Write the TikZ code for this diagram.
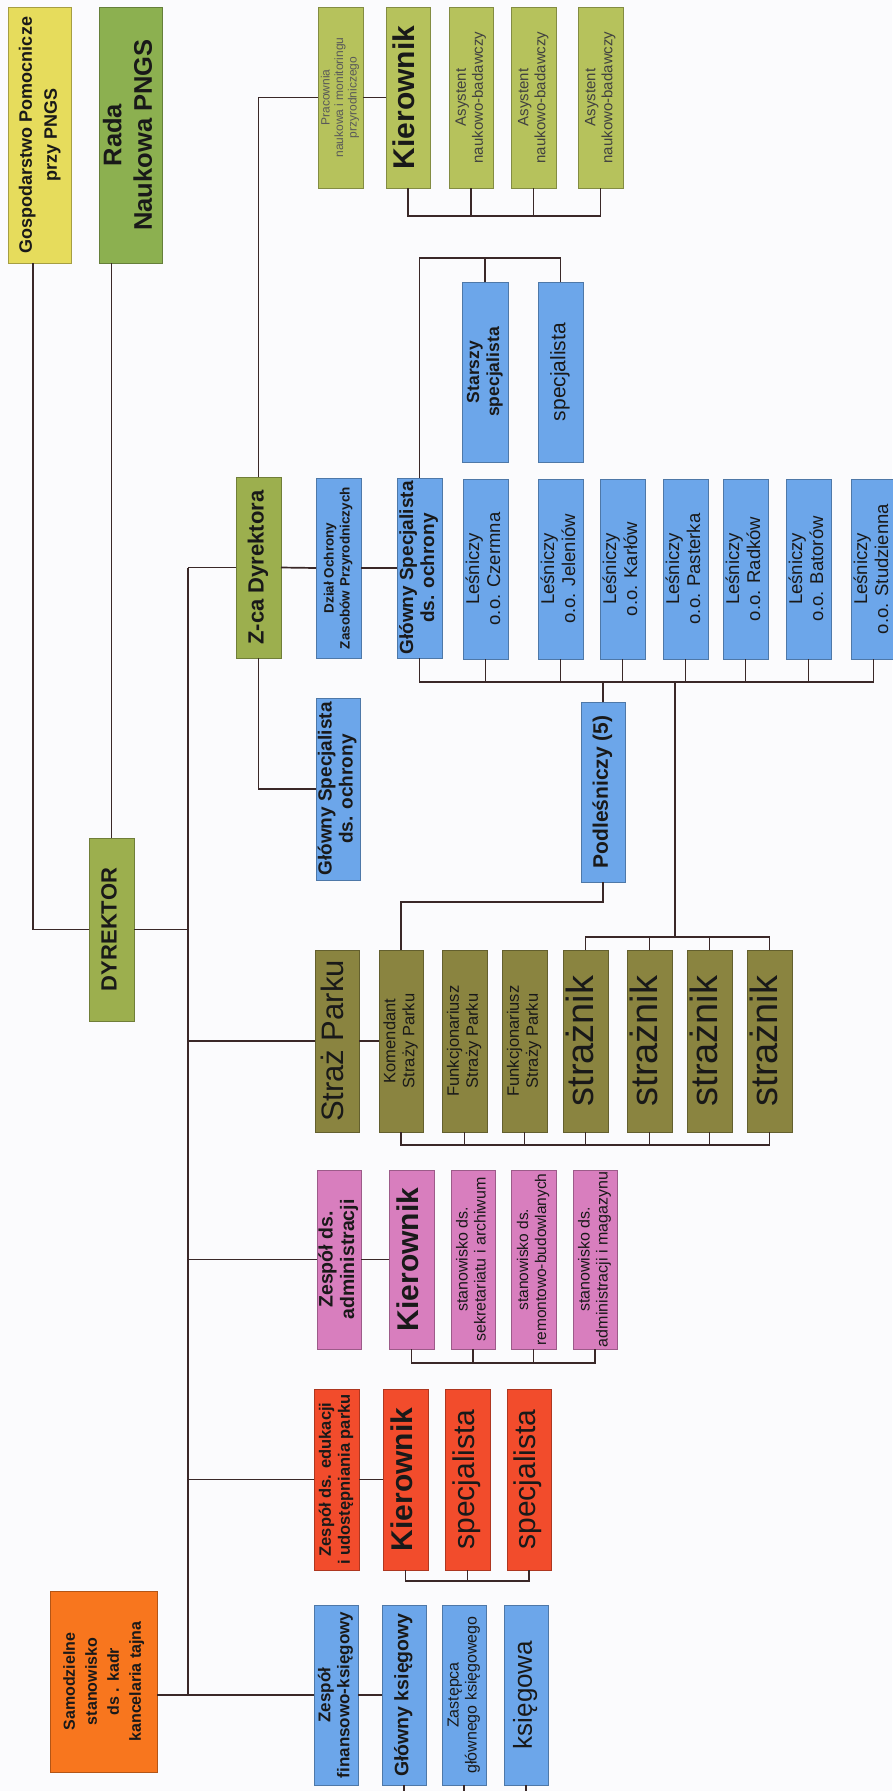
\documentclass[tikz,border=0pt]{standalone}
\usepackage{fontspec}
\setmainfont{Liberation Sans}
\usepackage{graphicx}
\definecolor{cYel}{HTML}{E6DC5C}
\definecolor{cRada}{HTML}{8CB050}
\definecolor{cDyr}{HTML}{9CAF4E}
\definecolor{cPrac}{HTML}{B6C25C}
\definecolor{cBlue}{HTML}{6CA6EA}
\definecolor{cOlive}{HTML}{8A8440}
\definecolor{cPink}{HTML}{D87EBE}
\definecolor{cRed}{HTML}{F24C2C}
\definecolor{cOrange}{HTML}{F8761E}
\definecolor{cLine}{HTML}{3A2828}
\definecolor{cBg}{HTML}{FBFBFD}
\newcommand\tb[3]{\rotatebox{90}{\fontsize{#1}{#2}\selectfont\bfseries\begin{tabular}{@{}c@{}}#3\end{tabular}}}
\newcommand\tr[3]{\rotatebox{90}{\fontsize{#1}{#2}\selectfont\begin{tabular}{@{}c@{}}#3\end{tabular}}}
\tikzset{
  bx/.style={draw=#1!72!black, line width=0.5pt, fill=#1, inner sep=0pt, outer sep=0pt, text=black!90},
  conn/.style={draw=cLine, line width=1.7pt},
}
\begin{document}
\begin{tikzpicture}[x=1pt,y=-1pt]
\fill[cBg] (0,0) rectangle (892,1791);
\useasboundingbox (0,0) rectangle (892,1791);

% top row
\node[bx=cYel, minimum width=63pt, minimum height=256pt] (gosp) at (39.5,135) {\tb{18}{25}{Gospodarstwo Pomocnicze\\przy PNGS}};
\node[bx=cRada, minimum width=63pt, minimum height=256pt] (rada) at (130.5,135) {\tb{25.5}{30.5}{Rada\\Naukowa PNGS}};
\node[bx=cDyr, minimum width=45pt, minimum height=183pt] (dyr) at (111.5,929.5) {\tb{22}{25}{DYREKTOR}};
\node[bx=cDyr, minimum width=45pt, minimum height=181pt] (zca) at (258.5,567.5) {\tb{22}{25}{Z-ca Dyrektora}};

% research
\node[bx=cPrac, minimum width=45pt, minimum height=181pt, text=black!65] (prac) at (340.5,97.5) {\tr{12}{13.5}{Pracownia\\naukowa i monitoringu\\przyrodniczego}};
\node[bx=cPrac, minimum width=44pt, minimum height=181pt] (kierg) at (408,97.5) {\tb{30}{33}{Kierownik}};
\node[bx=cPrac, minimum width=44pt, minimum height=181pt, text=black!75] (asys1) at (471,97.5) {\tr{15}{17}{Asystent\\naukowo-badawczy}};
\node[bx=cPrac, minimum width=45pt, minimum height=181pt, text=black!75] (asys2) at (533.5,97.5) {\tr{15}{17}{Asystent\\naukowo-badawczy}};
\node[bx=cPrac, minimum width=45pt, minimum height=181pt, text=black!75] (asys3) at (600.5,97.5) {\tr{15}{17}{Asystent\\naukowo-badawczy}};

% protection department
\node[bx=cBlue, minimum width=45pt, minimum height=180pt] (dzial) at (338.5,568) {\tb{13.5}{16}{Dział Ochrony\\Zasobów Przyrodniczych}};
\node[bx=cBlue, minimum width=45pt, minimum height=180pt] (gs1) at (419.5,568) {\tb{19}{21}{Główny Specjalista\\ds. ochrony}};
\node[bx=cBlue, minimum width=46pt, minimum height=180pt] (starszy) at (485,372) {\tb{17.5}{20}{Starszy\\specjalista}};
\node[bx=cBlue, minimum width=45pt, minimum height=180pt] (spec) at (560.5,372) {\tr{21}{24}{specjalista}};
\node[bx=cBlue, minimum width=45pt, minimum height=180pt] (czermna) at (485.5,569) {\tr{18.5}{21}{Leśniczy\\o.o. Czermna}};
\node[bx=cBlue, minimum width=45pt, minimum height=180pt] (jelen) at (560.5,569) {\tr{18.5}{21}{Leśniczy\\o.o. Jeleniów}};
\node[bx=cBlue, minimum width=45pt, minimum height=180pt] (karlow) at (622.5,569) {\tr{18.5}{21}{Leśniczy\\o.o. Karłów}};
\node[bx=cBlue, minimum width=45pt, minimum height=180pt] (pasterka) at (685.5,569) {\tr{18.5}{21}{Leśniczy\\o.o. Pasterka}};
\node[bx=cBlue, minimum width=45pt, minimum height=180pt] (radkow) at (745.5,569) {\tr{18.5}{21}{Leśniczy\\o.o. Radków}};
\node[bx=cBlue, minimum width=45pt, minimum height=180pt] (batorow) at (808.5,569) {\tr{18.5}{21}{Leśniczy\\o.o. Batorów}};
\node[bx=cBlue, minimum width=45pt, minimum height=180pt] (studz) at (873.5,569) {\tr{18.5}{21}{Leśniczy\\o.o. Studzienna}};
\node[bx=cBlue, minimum width=44pt, minimum height=180pt] (podl) at (603,792) {\tb{21}{24}{Podleśniczy (5)}};
\node[bx=cBlue, minimum width=44pt, minimum height=182pt] (gs2) at (338,789) {\tb{19}{21}{Główny Specjalista\\ds. ochrony}};

% park guard
\node[bx=cOlive, minimum width=44pt, minimum height=182pt] (straz) at (337,1041) {\tr{31}{34}{Straż Parku}};
\node[bx=cOlive, minimum width=44pt, minimum height=182pt] (komend) at (401,1041) {\tr{16.5}{19}{Komendant\\Straży Parku}};
\node[bx=cOlive, minimum width=45pt, minimum height=182pt] (funk1) at (464.5,1041) {\tr{16.5}{19}{Funkcjonariusz\\Straży Parku}};
\node[bx=cOlive, minimum width=45pt, minimum height=182pt] (funk2) at (524.5,1041) {\tr{16.5}{19}{Funkcjonariusz\\Straży Parku}};
\node[bx=cOlive, minimum width=45pt, minimum height=182pt] (s1) at (585.5,1041) {\tr{38}{40}{strażnik}};
\node[bx=cOlive, minimum width=45pt, minimum height=182pt] (s2) at (649.5,1041) {\tr{38}{40}{strażnik}};
\node[bx=cOlive, minimum width=45pt, minimum height=182pt] (s3) at (709.5,1041) {\tr{38}{40}{strażnik}};
\node[bx=cOlive, minimum width=45pt, minimum height=182pt] (s4) at (769.5,1041) {\tr{38}{40}{strażnik}};

% administration
\node[bx=cPink, minimum width=44pt, minimum height=179pt] (zadm) at (339,1259.5) {\tb{19.5}{21.5}{Zespół ds.\\administracji}};
\node[bx=cPink, minimum width=45pt, minimum height=179pt] (kierp) at (411.5,1259.5) {\tb{30}{33}{Kierownik}};
\node[bx=cPink, minimum width=44pt, minimum height=179pt] (st1) at (473,1259.5) {\tr{16}{18}{stanowisko ds.\\sekretariatu i archiwum}};
\node[bx=cPink, minimum width=45pt, minimum height=179pt] (st2) at (533.5,1259.5) {\tr{15.5}{18}{stanowisko ds.\\remontowo-budowlanych}};
\node[bx=cPink, minimum width=44pt, minimum height=179pt] (st3) at (595,1259.5) {\tr{16}{18}{stanowisko ds.\\administracji i magazynu}};

% education
\node[bx=cRed, minimum width=45pt, minimum height=181pt] (zedu) at (336.5,1479.5) {\tb{16.5}{19}{Zespół ds. edukacji\\i udostępniania parku}};
\node[bx=cRed, minimum width=45pt, minimum height=181pt] (kierr) at (405.5,1479.5) {\tb{30}{33}{Kierownik}};
\node[bx=cRed, minimum width=45pt, minimum height=181pt] (sp1) at (467.5,1479.5) {\tr{30}{33}{specjalista}};
\node[bx=cRed, minimum width=44pt, minimum height=181pt] (sp2) at (529,1479.5) {\tr{30}{33}{specjalista}};

% finance
\node[bx=cBlue, minimum width=44pt, minimum height=180pt] (zfin) at (336,1695) {\tb{17}{19}{Zespół\\finansowo-księgowy}};
\node[bx=cBlue, minimum width=44pt, minimum height=180pt] (glk) at (404,1695) {\tb{19.5}{22}{Główny księgowy}};
\node[bx=cBlue, minimum width=44pt, minimum height=180pt] (zast) at (464,1695) {\tr{16}{18}{Zastępca\\głównego księgowego}};
\node[bx=cBlue, minimum width=44pt, minimum height=180pt] (ksieg) at (526,1695) {\tr{26}{29}{księgowa}};
\node[bx=cOrange, minimum width=107pt, minimum height=181pt] (samo) at (103.5,1681.5) {\tb{16}{22}{Samodzielne\\stanowisko\\ds . kadr\\kancelaria tajna}};

% helper coordinates
\coordinate (spx) at (188,0);
\coordinate (gx) at (33,0);
\coordinate (bg) at (0,216);
\coordinate (bt) at (0,258);
\coordinate (bb) at (0,682);
\coordinate (sx) at (675,682);
\coordinate (bs) at (0,937);
\coordinate (bp) at (0,902);
\coordinate (bsb) at (0,1145);
\coordinate (bpk) at (0,1363);
\coordinate (brd) at (0,1581);
\coordinate (bot) at (0,1795);

% connectors
\draw[conn] (zca.west -| spx) -- (zfin.west -| spx);
\draw[conn] (gosp.south -| gx) |- (dyr.west);
\draw[conn] (dyr.north) -- (dyr.north |- rada.south);
\draw[conn] (dyr.east) -- (dyr.east -| spx);
\draw[conn] (zca.west) -- (zca.west -| spx);
\draw[conn] (zca.east) -- (dzial.west);
\draw[conn] (dzial.east) -- (gs1.west);
\draw[conn] (zca.north) |- (prac.west);
\draw[conn] (prac.east) -- (kierg.west);
\draw[conn] (kierg.south) |- (asys3.south |- bg) -- (asys3.south);
\foreach \n in {asys1,asys2} \draw[conn] (\n.south) -- (\n.south |- bg);
\draw[conn] (zca.south) |- (gs2.west);
\draw[conn] (gs1.north) |- (spec.north |- bt) -- (spec.north);
\draw[conn] (starszy.north) -- (starszy.north |- bt);
\draw[conn] (gs1.south) |- (studz.south |- bb) -- (studz.south);
\foreach \n in {czermna,jelen,karlow,pasterka,radkow,batorow} \draw[conn] (\n.south) -- (\n.south |- bb);
\draw[conn] (podl.north) -- (podl.north |- bb);
\draw[conn] (sx) -- (sx |- bs);
\draw[conn] (s1.north) |- (s4.north |- bs) -- (s4.north);
\foreach \n in {s2,s3} \draw[conn] (\n.north) -- (\n.north |- bs);
\draw[conn] (podl.south) |- (komend.north |- bp) -- (komend.north);
\draw[conn] (straz.west) -- (straz.west -| spx);
\draw[conn] (straz.east) -- (komend.west);
\draw[conn] (komend.south) |- (s4.south |- bsb) -- (s4.south);
\foreach \n in {funk1,funk2,s1,s2,s3} \draw[conn] (\n.south) -- (\n.south |- bsb);
\draw[conn] (zadm.west) -- (zadm.west -| spx);
\draw[conn] (zadm.east) -- (kierp.west);
\draw[conn] (kierp.south) |- (st3.south |- bpk) -- (st3.south);
\foreach \n in {st1,st2} \draw[conn] (\n.south) -- (\n.south |- bpk);
\draw[conn] (zedu.west) -- (zedu.west -| spx);
\draw[conn] (zedu.east) -- (kierr.west);
\draw[conn] (kierr.south) |- (sp2.south |- brd) -- (sp2.south);
\draw[conn] (sp1.south) -- (sp1.south |- brd);
\draw[conn] (zfin.west -| samo.east) -- (zfin.west);
\draw[conn] (zfin.east) -- (glk.west);
\foreach \n in {glk,zast,ksieg} \draw[conn] (\n.south) -- (\n.south |- bot);
\end{tikzpicture}
\end{document}
